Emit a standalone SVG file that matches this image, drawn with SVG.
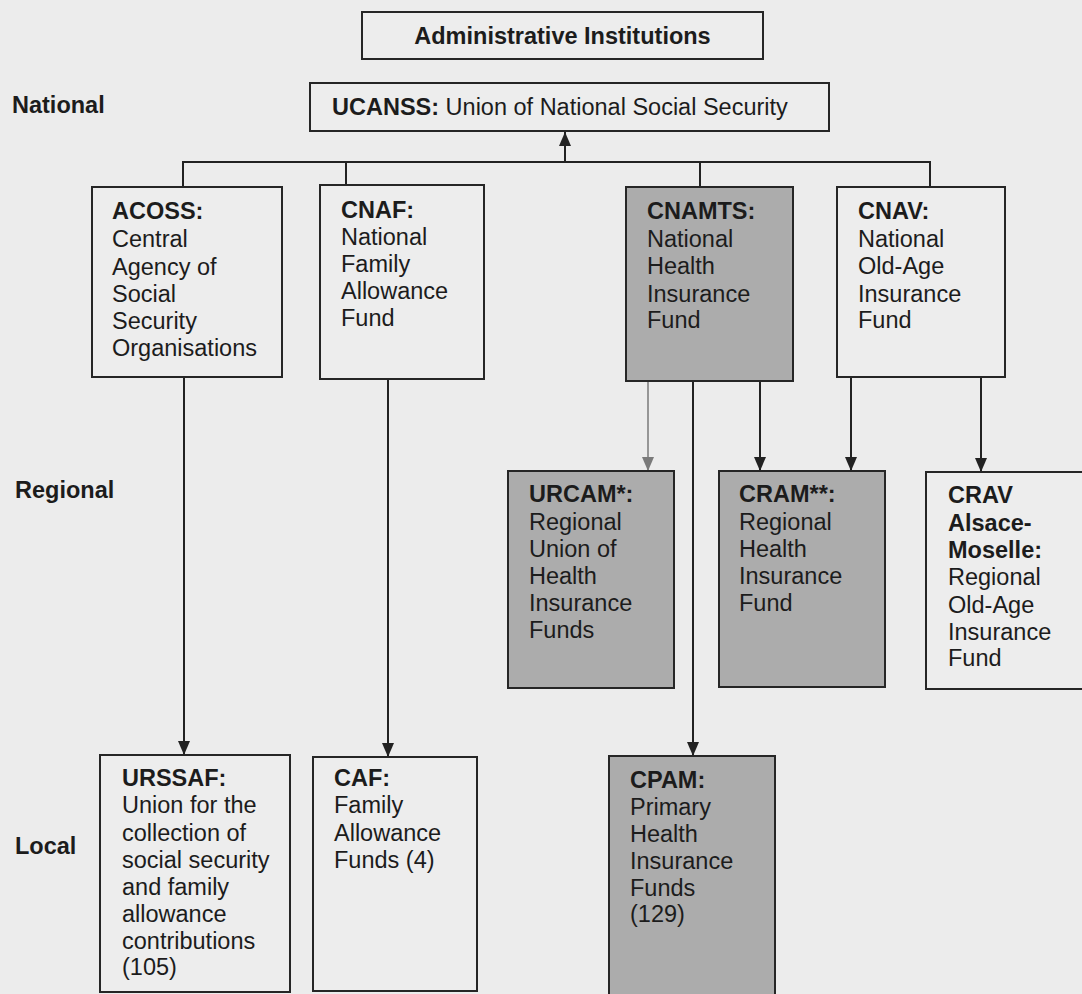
<svg xmlns="http://www.w3.org/2000/svg" width="1082" height="994" viewBox="0 0 1082 994">
<style>
  text { font-family: "Liberation Sans", Arial, sans-serif; font-size: 23.5px; fill: #1c1c1c; }
  .b { font-weight: bold; }
  .box { fill: #ededed; stroke: #262626; stroke-width: 2; }
  .gbox { fill: #acacac; stroke: #262626; stroke-width: 2; }
  .ln { stroke: #222; stroke-width: 2; fill: none; }
  .gln { stroke: #7a7a7a; stroke-width: 1.5; fill: none; }
</style>
<defs>
  <marker id="ah" markerUnits="userSpaceOnUse" markerWidth="14" markerHeight="12" viewBox="0 0 14 12" refX="14" refY="6" orient="auto">
    <path d="M0,0 L14,6 L0,12 z" fill="#222"/>
  </marker>
  <marker id="ahg" markerUnits="userSpaceOnUse" markerWidth="14" markerHeight="12" viewBox="0 0 14 12" refX="14" refY="6" orient="auto">
    <path d="M0,0 L14,6 L0,12 z" fill="#7a7a7a"/>
  </marker>
</defs>
<rect x="0" y="0" width="1082" height="994" fill="#ececec"/>

<g id="levels">
  <text x="12" y="113" class="b">National</text>
  <text x="15" y="498" class="b">Regional</text>
  <text x="15" y="854" class="b">Local</text>
</g>

<g id="connectors">
  <line class="ln" x1="565" y1="162" x2="565" y2="132" marker-end="url(#ah)"/>
  <polyline class="ln" points="183,187 183,162 930,162 930,187"/>
  <line class="ln" x1="346" y1="162" x2="346" y2="185"/>
  <line class="ln" x1="700" y1="162" x2="700" y2="187"/>
  <line class="ln" x1="184" y1="377" x2="184" y2="755" marker-end="url(#ah)"/>
  <line class="ln" x1="388" y1="379" x2="388" y2="757" marker-end="url(#ah)"/>
  <line class="gln" x1="648" y1="381" x2="648" y2="471" marker-end="url(#ahg)"/>
  <line class="ln" x1="693" y1="381" x2="693" y2="756" marker-end="url(#ah)"/>
  <line class="ln" x1="760" y1="381" x2="760" y2="471" marker-end="url(#ah)"/>
  <line class="ln" x1="851" y1="377" x2="851" y2="471" marker-end="url(#ah)"/>
  <line class="ln" x1="981" y1="377" x2="981" y2="472" marker-end="url(#ah)"/>
</g>

<g id="title">
  <rect class="box" x="362" y="12" width="401" height="47"/>
  <text x="562.5" y="44" class="b" text-anchor="middle">Administrative Institutions</text>
</g>

<g id="ucanss">
  <rect class="box" x="310" y="83" width="519" height="48"/>
  <text x="332" y="115"><tspan class="b">UCANSS:</tspan> Union of National Social Security</text>
</g>

<g id="acoss">
  <rect class="box" x="92" y="187" width="190" height="190"/>
  <text x="112" y="219" class="b">ACOSS:</text>
  <text x="112" y="247">Central</text>
  <text x="112" y="274.5">Agency of</text>
  <text x="112" y="302">Social</text>
  <text x="112" y="329">Security</text>
  <text x="112" y="356">Organisations</text>
</g>

<g id="cnaf">
  <rect class="box" x="320" y="185" width="164" height="194"/>
  <text x="341" y="218" class="b">CNAF:</text>
  <text x="341" y="245">National</text>
  <text x="341" y="272">Family</text>
  <text x="341" y="299">Allowance</text>
  <text x="341" y="326">Fund</text>
</g>

<g id="cnamts">
  <rect class="gbox" x="626" y="187" width="167" height="194"/>
  <text x="647" y="219" class="b">CNAMTS:</text>
  <text x="647" y="246.5">National</text>
  <text x="647" y="274">Health</text>
  <text x="647" y="301.5">Insurance</text>
  <text x="647" y="328">Fund</text>
</g>

<g id="cnav">
  <rect class="box" x="837" y="187" width="168" height="190"/>
  <text x="858" y="219" class="b">CNAV:</text>
  <text x="858" y="246.5">National</text>
  <text x="858" y="274">Old-Age</text>
  <text x="858" y="301.5">Insurance</text>
  <text x="858" y="328">Fund</text>
</g>

<g id="urcam">
  <rect class="gbox" x="508" y="471" width="166" height="217"/>
  <text x="529" y="502" class="b">URCAM*:</text>
  <text x="529" y="529.5">Regional</text>
  <text x="529" y="556.5">Union of</text>
  <text x="529" y="583.5">Health</text>
  <text x="529" y="611">Insurance</text>
  <text x="529" y="638">Funds</text>
</g>

<g id="cram">
  <rect class="gbox" x="719" y="471" width="166" height="216"/>
  <text x="739" y="502" class="b">CRAM**:</text>
  <text x="739" y="529.5">Regional</text>
  <text x="739" y="556.5">Health</text>
  <text x="739" y="583.5">Insurance</text>
  <text x="739" y="611">Fund</text>
</g>

<g id="crav">
  <rect class="box" x="926" y="472" width="170" height="217"/>
  <text x="948" y="503" class="b">CRAV</text>
  <text x="948" y="530.5" class="b">Alsace-</text>
  <text x="948" y="558" class="b">Moselle:</text>
  <text x="948" y="585">Regional</text>
  <text x="948" y="612.5">Old-Age</text>
  <text x="948" y="639.5">Insurance</text>
  <text x="948" y="666">Fund</text>
</g>

<g id="urssaf">
  <rect class="box" x="100" y="755" width="190" height="237"/>
  <text x="122" y="786" class="b">URSSAF:</text>
  <text x="122" y="813">Union for the</text>
  <text x="122" y="840.5">collection of</text>
  <text x="122" y="867.5">social security</text>
  <text x="122" y="895">and family</text>
  <text x="122" y="921.5">allowance</text>
  <text x="122" y="948.5">contributions</text>
  <text x="122" y="975">(105)</text>
</g>

<g id="caf">
  <rect class="box" x="313" y="757" width="164" height="234"/>
  <text x="334" y="786" class="b">CAF:</text>
  <text x="334" y="813">Family</text>
  <text x="334" y="840.5">Allowance</text>
  <text x="334" y="867.5">Funds (4)</text>
</g>

<g id="cpam">
  <rect class="gbox" x="609" y="756" width="166" height="245"/>
  <text x="630" y="788" class="b">CPAM:</text>
  <text x="630" y="815">Primary</text>
  <text x="630" y="841.5">Health</text>
  <text x="630" y="868.5">Insurance</text>
  <text x="630" y="895.5">Funds</text>
  <text x="630" y="922">(129)</text>
</g>
</svg>
